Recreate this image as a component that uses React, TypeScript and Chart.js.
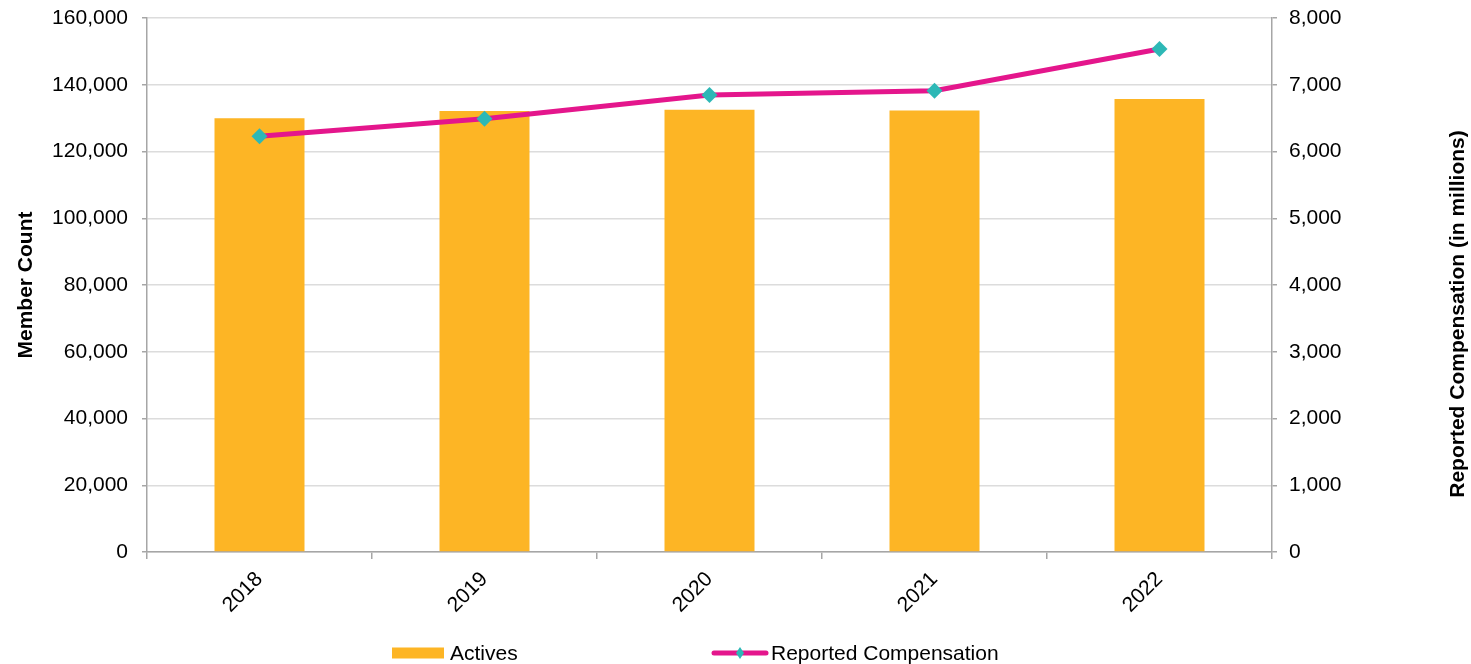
import React, { useEffect, useRef } from "react";
import { Chart, registerables } from "chart.js";

Chart.register(...registerables);

// Fiscal years on the category axis
const years = ["2018", "2019", "2020", "2021", "2022"];
// Active member count (left axis)
const activeMembers = [130000, 132100, 132500, 132300, 135700];
// Reported compensation in millions (right axis)
const reportedCompensation = [6230, 6490, 6845, 6910, 7535];

const memberAxisMax = 160000;
const memberAxisStep = 20000;
const compAxisMax = 8000;
const compAxisStep = 1000;
const compAxisTitle = "Reported Compensation (in millions)";

const FONT = "'Liberation Sans', Arial, Helvetica, sans-serif";
const BAR_COLOR = "#FDB525";
const LINE_COLOR = "#E4168C";
const MARKER_COLOR = "#2DB8B6";
const AXIS_COLOR = "#A6A6A6";
const GRID_COLOR = "#DCDCDC";

const fmt = (v: number) => Number(v).toLocaleString("en-US");

// Right-hand axis title, written bottom-to-top like the left one
const rightAxisTitle = {
  id: "rightAxisTitle",
  afterDraw(chart: any) {
    const ctx = chart.ctx as CanvasRenderingContext2D;
    const area = chart.chartArea;
    const x = chart.width - 13;
    const y = (area.top + area.bottom) / 2 + 29;
    ctx.save();
    ctx.translate(x, y);
    ctx.rotate(-Math.PI / 2);
    ctx.font = `bold 21px ${FONT}`;
    ctx.fillStyle = "#000";
    ctx.textAlign = "center";
    ctx.textBaseline = "middle";
    ctx.fillText(compAxisTitle, 0, 0);
    ctx.restore();
  },
};

// Legend drawn along the bottom edge, items spread out like an office-style legend
const bottomLegend = {
  id: "bottomLegend",
  afterDraw(chart: any) {
    const ctx = chart.ctx as CanvasRenderingContext2D;
    const cx = chart.width / 2;
    const y = chart.height - 11;
    const sets = chart.data.datasets;
    ctx.save();
    ctx.font = `21px ${FONT}`;
    ctx.textBaseline = "middle";
    ctx.textAlign = "left";

    // bar item
    const bx = cx - 343.5;
    ctx.fillStyle = sets[0].backgroundColor;
    ctx.fillRect(bx, y - 5.5, 52, 11);
    ctx.fillStyle = "#000";
    ctx.fillText(sets[0].label, bx + 58, y + 1);

    // line item
    const lx = cx - 23.5;
    ctx.strokeStyle = sets[1].borderColor;
    ctx.lineWidth = 5;
    ctx.lineCap = "round";
    ctx.beginPath();
    ctx.moveTo(lx + 2, y);
    ctx.lineTo(lx + 54, y);
    ctx.stroke();
    ctx.fillStyle = sets[1].pointBackgroundColor;
    ctx.beginPath();
    ctx.moveTo(lx + 28, y - 6);
    ctx.lineTo(lx + 32, y);
    ctx.lineTo(lx + 28, y + 6);
    ctx.lineTo(lx + 24, y);
    ctx.closePath();
    ctx.fill();
    ctx.fillStyle = "#000";
    ctx.fillText(sets[1].label, lx + 59, y + 1);
    ctx.restore();
  },
};

export default function App() {
  const canvasRef = useRef<HTMLCanvasElement | null>(null);

  useEffect(() => {
    if (!canvasRef.current) return;
    const chart = new Chart(canvasRef.current, {
      type: "bar",
      data: {
        labels: years,
        datasets: [
          {
            type: "bar",
            label: "Actives",
            data: activeMembers,
            backgroundColor: BAR_COLOR,
            borderWidth: 0,
            barPercentage: 0.4,
            categoryPercentage: 1.0,
            yAxisID: "y",
            order: 2,
          },
          {
            type: "line",
            label: "Reported Compensation",
            data: reportedCompensation,
            borderColor: LINE_COLOR,
            backgroundColor: LINE_COLOR,
            borderWidth: 5,
            tension: 0,
            pointStyle: "rectRot",
            pointRadius: 8,
            pointBorderWidth: 0,
            pointBackgroundColor: MARKER_COLOR,
            pointBorderColor: MARKER_COLOR,
            yAxisID: "y1",
            order: 1,
          } as any,
        ],
      },
      options: {
        animation: false,
        responsive: true,
        maintainAspectRatio: false,
        layout: { padding: { top: 18, left: 0, right: 0, bottom: 42 } },
        plugins: {
          legend: { display: false },
          tooltip: { enabled: false },
        },
        scales: {
          x: {
            afterFit: (s: any) => {
              s.height = 70;
            },
            grid: {
              offset: true,
              drawOnChartArea: false,
              drawTicks: true,
              tickLength: 7,
              tickColor: AXIS_COLOR,
              lineWidth: 1.5,
            },
            border: { display: true, color: AXIS_COLOR, width: 1.5 },
            ticks: {
              minRotation: 45,
              maxRotation: 45,
              padding: 8,
              color: "#000",
              font: { family: FONT, size: 21 },
            },
          },
          y: {
            position: "left",
            min: 0,
            max: memberAxisMax,
            afterFit: (s: any) => {
              s.width = 147;
              s.paddingTop = 0;
              s.paddingBottom = 0;
            },
            grid: {
              color: GRID_COLOR,
              lineWidth: 1.5,
              tickColor: AXIS_COLOR,
              tickLength: 5,
            },
            border: { display: true, color: AXIS_COLOR, width: 1.5 },
            ticks: {
              stepSize: memberAxisStep,
              padding: 14,
              color: "#000",
              font: { family: FONT, size: 21 },
              callback: (v: any) => fmt(v),
            },
            title: {
              display: true,
              text: "Member Count",
              color: "#000",
              padding: { top: 14, bottom: 0 },
              font: { family: FONT, size: 21, weight: "bold" },
            },
          },
          y1: {
            position: "right",
            min: 0,
            max: compAxisMax,
            afterFit: (s: any) => {
              s.width = 199;
              s.paddingTop = 0;
              s.paddingBottom = 0;
            },
            grid: {
              drawOnChartArea: false,
              tickColor: AXIS_COLOR,
              tickLength: 5,
              lineWidth: 1.5,
            },
            border: { display: true, color: AXIS_COLOR, width: 1.5 },
            ticks: {
              stepSize: compAxisStep,
              padding: 12,
              color: "#000",
              font: { family: FONT, size: 21 },
              callback: (v: any) => fmt(v),
            },
          },
        },
      },
      plugins: [bottomLegend, rightAxisTitle],
    });
    return () => chart.destroy();
  }, []);

  return (
    <div
      style={{
        position: "fixed",
        left: 0,
        top: 0,
        width: 1471,
        height: 664,
        background: "#fff",
      }}
    >
      <canvas ref={canvasRef} />
    </div>
  );
}
